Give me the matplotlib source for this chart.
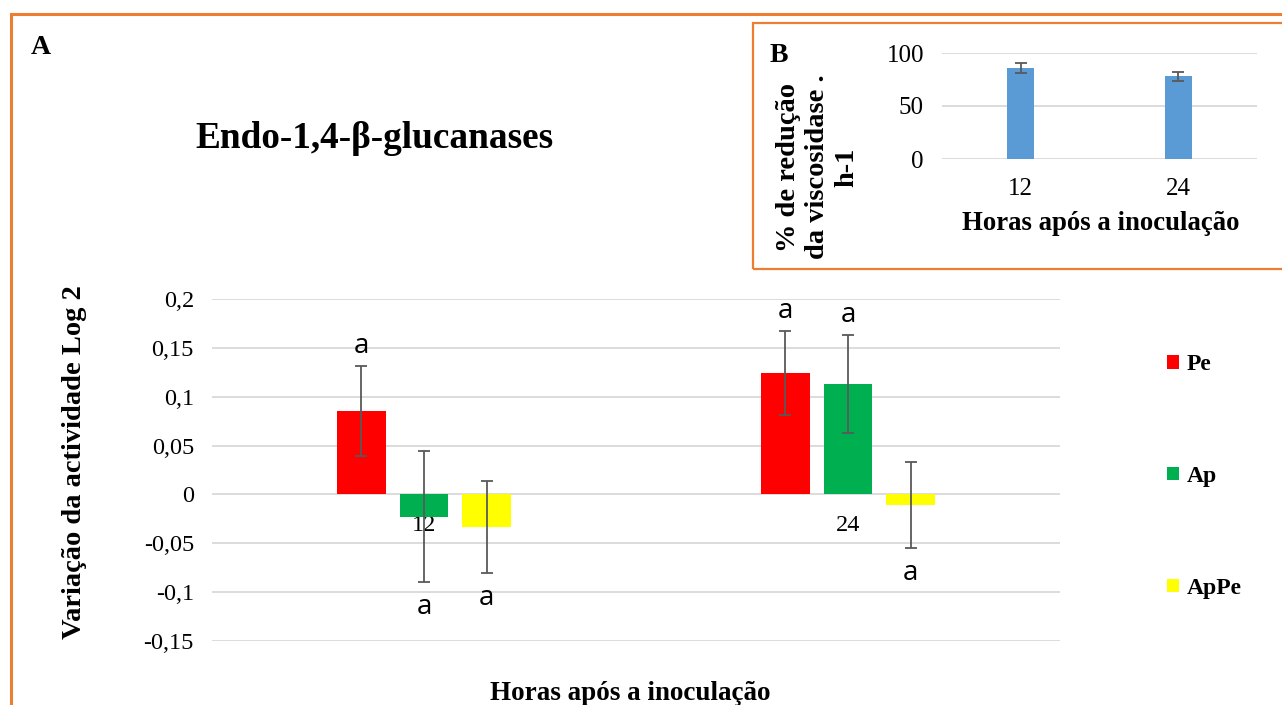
import numpy as np
import matplotlib
matplotlib.use("Agg")
from matplotlib import pyplot as plt
from matplotlib.patches import Rectangle

W, H = 1282, 705

# main chart (A)
hours = ["12", "24"]
series = ["Pe", "Ap", "ApPe"]
colours = ["#FF0000", "#00B050", "#FFFF00"]
pe = [0.085, 0.124]
ap = [-0.023, 0.113]
appe = [-0.033, -0.011]
pe_err = [0.046, 0.043]
ap_err = [0.067, 0.050]
appe_err = [0.047, 0.044]
pe_let = ["a", "a"]
ap_let = ["a", "a"]
appe_let = ["a", "a"]
yticks = [-0.15, -0.1, -0.05, 0, 0.05, 0.1, 0.15, 0.2]

# inset (B)
visc = [86, 78]
visc_err = [4.6, 4.0]

serif = "Liberation Serif"


def fx(px):
    return px / W


def fy(py):
    return 1 - py / H


def comma(v):
    if abs(v) < 1e-9:
        return "0"
    return ("%g" % round(v, 2)).replace(".", ",")


fig = plt.figure(figsize=(W / 100, H / 100), dpi=100)

ax = fig.add_axes([fx(212), fy(641), (1060 - 212) / W, (641 - 299) / H])
x = np.arange(len(hours))
offs = [-0.148, 0, 0.148]
bw = 0.115
ekw = dict(ecolor="#595959", elinewidth=1.3, capsize=4.3, capthick=1.3)
for vals, errs, lets, col, name, off in zip([pe, ap, appe], [pe_err, ap_err, appe_err],
                                           [pe_let, ap_let, appe_let], colours, series, offs):
    ax.bar(x + off, vals, bw, color=col, label=name, yerr=errs, error_kw=ekw, zorder=2)
    for xi, v, e, t in zip(x + off, vals, errs, lets):
        if v >= 0:
            ax.annotate(t, (xi, v + e), xytext=(0, 9.5), textcoords="offset points",
                        ha="center", va="baseline", fontsize=20, family="Open Sans")
        else:
            ax.annotate(t, (xi, v - e), xytext=(0, -23), textcoords="offset points",
                        ha="center", va="baseline", fontsize=20, family="Open Sans")

ax.set_xlim(-0.5, 1.5)
ax.set_ylim(-0.15, 0.2)
ax.set_yticks(yticks, [comma(v) for v in yticks])
ax.set_xticks(x, hours)
ax.spines["bottom"].set_position(("data", 0))
for s in ax.spines.values():
    s.set_visible(False)
ax.yaxis.grid(True, color="#D9D9D9", lw=1.3)
ax.set_axisbelow(True)
ax.tick_params(axis="y", length=0, pad=13, labelsize=17.5)
ax.tick_params(axis="x", length=0, pad=14.5, labelsize=17.5)
for lab in ax.get_xticklabels() + ax.get_yticklabels():
    lab.set_family(serif)

leg = ax.legend(loc="upper left", bbox_to_anchor=(fx(1167), fy(354)), bbox_transform=fig.transFigure,
                frameon=False, labelspacing=3.85, handlelength=0.52, handleheight=0.52,
                handletextpad=0.3, borderpad=0, borderaxespad=0,
                prop=dict(family=serif, weight="bold", size=17))

fig.text(fx(41), fy(47), "A", ha="center", va="center", family=serif, weight="bold", fontsize=20)
fig.text(fx(374), fy(138), "Endo-1,4-β-glucanases", ha="center", va="center",
         family=serif, weight="bold", fontsize=26.8)
fig.text(fx(75), fy(462), "Variação da actividade Log 2", rotation=90, ha="center", va="center",
         family=serif, weight="bold", fontsize=20.5)
fig.text(fx(630), fy(694), "Horas após a inoculação", ha="center", va="center",
         family=serif, weight="bold", fontsize=19.5)

# inset B
ax2 = fig.add_axes([fx(942), fy(159), 315 / W, 106 / H])
ax2.bar(x, visc, 0.17, color="#5B9BD5", yerr=visc_err,
        error_kw=dict(ecolor="#595959", elinewidth=1.3, capsize=4, capthick=1.3), zorder=2)
ax2.set_xlim(-0.5, 1.5)
ax2.set_ylim(0, 100)
ax2.set_yticks([0, 50, 100])
ax2.set_xticks(x, hours)
for s in ax2.spines.values():
    s.set_visible(False)
ax2.yaxis.grid(True, color="#D9D9D9", lw=1.3)
ax2.set_axisbelow(True)
ax2.tick_params(axis="y", length=0, pad=13, labelsize=18)
ax2.tick_params(axis="x", length=0, pad=14, labelsize=18)
for lab in ax2.get_xticklabels() + ax2.get_yticklabels():
    lab.set_family(serif)

fig.text(fx(1101), fy(224), "Horas após a inoculação", ha="center", va="center",
         family=serif, weight="bold", fontsize=19.3)
fig.text(fx(818), fy(167), "% de redução\nda viscosidase .\nh-1", rotation=90, ha="center",
         va="center", multialignment="center", linespacing=1.22,
         family=serif, weight="bold", fontsize=20.5)
fig.text(fx(779), fy(55), "B", ha="center", va="center", family=serif, weight="bold", fontsize=20)

# orange frames
fig.add_artist(Rectangle((fx(11), -0.1), 1.2, fy(14) + 0.1, transform=fig.transFigure,
                         fill=False, edgecolor="#ED7D31", lw=2.2))
fig.add_artist(Rectangle((fx(753), fy(269)), 0.5, (269 - 23) / H, transform=fig.transFigure,
                         fill=False, edgecolor="#ED7D31", lw=1.6))

fig.savefig("out.png", dpi=100)
